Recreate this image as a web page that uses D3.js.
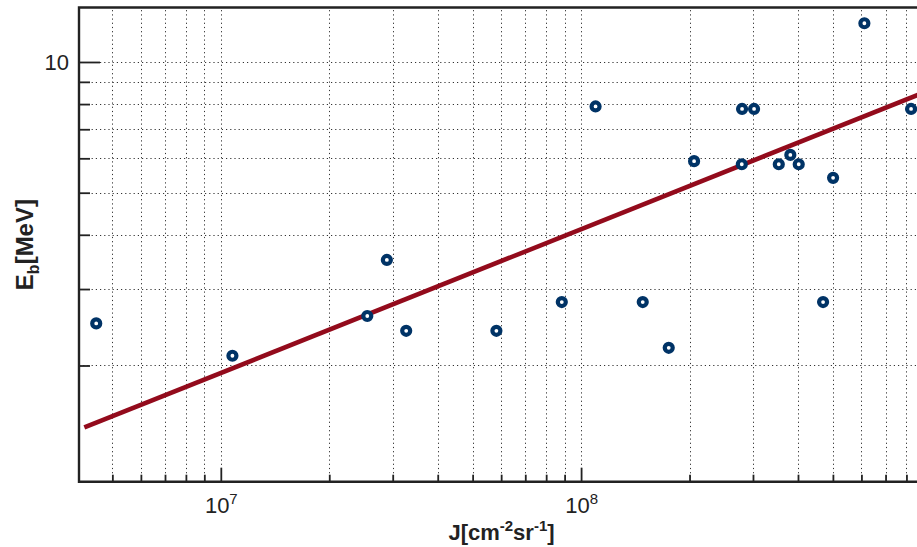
<!DOCTYPE html>
<html><head><meta charset="utf-8">
<script src="https://cdn.jsdelivr.net/npm/d3@7"></script>
<style>
body{margin:0;background:#fff}
svg{display:block}
text{font-family:"Liberation Sans",Arial,Helvetica,sans-serif;fill:#222}
</style>
</head><body>
<svg id="chart" width="917" height="547"></svg>
<script>
// Data
const fluxJ = [4.51e6, 1.077e7, 2.55e7, 2.89e7, 3.27e7, 5.82e7, 8.84e7, 1.097e8, 1.483e8, 1.751e8,
               2.059e8, 2.798e8, 2.793e8, 3.021e8, 3.538e8, 3.809e8, 4.019e8, 4.696e8, 5.006e8, 6.114e8, 8.24e8];
const energyEb = [2.50, 2.106, 2.60, 3.50, 2.404, 2.404, 2.80, 7.90, 2.80, 2.197,
                  5.91, 7.795, 5.815, 7.795, 5.815, 6.11, 5.815, 2.80, 5.41, 12.28, 7.795];
const fitJ = [4.18e6, 1.0e9];
const fitEb = [1.44, 8.83];
const xDomain = [4.04e6, 8.95e8];
const yDomain = [1.08, 13.35];
const xMajorTicks = [1e7, 1e8];
const xMinorTicks = [5e6, 6e6, 7e6, 8e6, 9e6, 2e7, 3e7, 4e7, 5e7, 6e7, 7e7, 8e7, 9e7,
                     2e8, 3e8, 4e8, 5e8, 6e8, 7e8, 8e8];
const yMajorTicks = [10];
const yMinorTicks = [2, 3, 4, 5, 6, 7, 8, 9];
const xLabel = ["J[cm", "-2", "sr", "-1", "]"];
const yLabel = ["E", "b", "[MeV]"];

const svg = d3.select("#chart");
const L = 79, R = 924, T = 7.5, B = 481.7;
const x = d3.scaleLog().domain(xDomain).range([L, R]);
const y = d3.scaleLog().domain(yDomain).range([B, T]);
const axisColor = "#222";

svg.append("defs").append("clipPath").attr("id", "plotclip")
  .append("rect").attr("x", L).attr("y", T).attr("width", R - L).attr("height", B - T);

// grid
const grid = svg.append("g").attr("stroke", "#333").attr("stroke-width", 1)
  .attr("stroke-dasharray", "1.2,3").attr("fill", "none");
grid.selectAll("line.gx").data(xMajorTicks.concat(xMinorTicks)).join("line")
  .attr("x1", d => Math.round(x(d)) + 0.5).attr("x2", d => Math.round(x(d)) + 0.5)
  .attr("y1", B).attr("y2", T);
grid.selectAll("line.gy").data(yMajorTicks.concat(yMinorTicks)).join("line")
  .attr("y1", d => Math.round(y(d)) + 0.5).attr("y2", d => Math.round(y(d)) + 0.5)
  .attr("x1", L).attr("x2", R);

// ticks via d3 axes
function styleAxis(g) {
  g.select(".domain").remove();
  g.selectAll(".tick line").attr("stroke", axisColor).attr("stroke-width", 1.8);
}
const gxMinor = svg.append("g").attr("transform", `translate(0,${B})`)
  .call(d3.axisBottom(x).tickValues(xMinorTicks).tickSizeInner(-7).tickSizeOuter(0).tickFormat(() => ""))
  .call(styleAxis);
const gxMajor = svg.append("g").attr("transform", `translate(0,${B})`)
  .call(d3.axisBottom(x).tickValues(xMajorTicks).tickSizeInner(-14).tickSizeOuter(0).tickFormat(() => ""))
  .call(styleAxis);
gxMajor.selectAll(".tick text").each(function(d) {
  const t = d3.select(this);
  t.attr("y", 31.6).attr("dy", null).attr("font-size", "22px").attr("fill", "#222").attr("text-anchor", "middle");
  t.append("tspan").text("10");
  t.append("tspan").attr("font-size", "15px").attr("dy", "-9").text(Math.round(Math.log10(d)));
});
const gyMinor = svg.append("g").attr("transform", `translate(${L},0)`)
  .call(d3.axisLeft(y).tickValues(yMinorTicks).tickSizeInner(-11).tickSizeOuter(0).tickFormat(() => ""))
  .call(styleAxis);
const gyMajor = svg.append("g").attr("transform", `translate(${L},0)`)
  .call(d3.axisLeft(y).tickValues(yMajorTicks).tickSizeInner(-21).tickSizeOuter(0).tickPadding(10)
    .tickFormat(d => String(d)))
  .call(styleAxis);
gyMajor.selectAll(".tick text").attr("font-size", "22px").attr("fill", "#222")
  .attr("font-family", "'Liberation Sans',Arial,sans-serif");

// box lines (left, bottom, top)
svg.append("path")
  .attr("d", `M${R},${T}H${L}V${B}H${R}`)
  .attr("fill", "none").attr("stroke", axisColor).attr("stroke-width", 2.4);

// fit line
const plot = svg.append("g").attr("clip-path", "url(#plotclip)");
const fitData = fitJ.map((j, i) => [j, fitEb[i]]);
plot.append("path").datum(fitData)
  .attr("d", d3.line().x(d => x(d[0])).y(d => y(d[1])))
  .attr("fill", "none").attr("stroke", "#930b1c").attr("stroke-width", 4.6);

// points
const pts = fluxJ.map((j, i) => [j, energyEb[i]]);
svg.append("g").selectAll("circle").data(pts).join("circle")
  .attr("cx", d => x(d[0])).attr("cy", d => y(d[1])).attr("r", 4)
  .attr("fill", "#fff").attr("stroke", "#003366").attr("stroke-width", 4.2);

// axis labels
const xl = svg.append("text").attr("x", (L + R) / 2).attr("y", 540)
  .attr("text-anchor", "middle").attr("font-size", "22px").attr("font-weight", "bold");
xl.append("tspan").text(xLabel[0]);
xl.append("tspan").attr("font-size", "15px").attr("dy", "-9").text(xLabel[1]);
xl.append("tspan").attr("dy", "9").text(xLabel[2]);
xl.append("tspan").attr("font-size", "15px").attr("dy", "-9").text(xLabel[3]);
xl.append("tspan").attr("dy", "9").text(xLabel[4]);

const yl = svg.append("text").attr("transform", `translate(33,${(T + B) / 2}) rotate(-90)`)
  .attr("text-anchor", "middle").attr("font-size", "24px").attr("font-weight", "bold");
yl.append("tspan").text(yLabel[0]);
yl.append("tspan").attr("font-size", "16px").attr("dy", "6").text(yLabel[1]);
yl.append("tspan").attr("dy", "-6").text(yLabel[2]);
</script>
</body></html>
